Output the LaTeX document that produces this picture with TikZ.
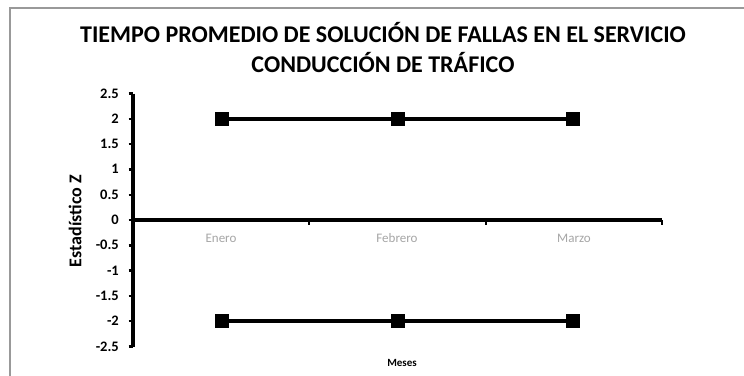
\documentclass[tikz,border=0pt]{standalone}
\usepackage{fontspec}
\setmainfont{Carlito}
\definecolor{framegray}{HTML}{999999}
\definecolor{catgray}{HTML}{A6A6A6}
\begin{document}
\begin{tikzpicture}[x=1pt,y=-1pt,
  ylab/.style={anchor=base east,font=\bfseries\fontsize{14.5}{16}\selectfont,inner sep=0pt},
  catlab/.style={anchor=base,font=\fontsize{13}{15}\selectfont,text=catgray,inner sep=0pt},
  marker/.style={fill=black,minimum size=14pt,inner sep=0pt,draw=none},
  dataline/.style={line width=3.4pt},
  axisline/.style={line width=3.6pt},
  tick/.style={line width=2.4pt}]
\useasboundingbox (0,0) rectangle (744,375);
\fill[white] (0,0) rectangle (744,375);
% frame
\draw[framegray,line width=1.5pt] (10,376) -- (10,8) -- (745,8);
% title
\node[font=\bfseries\fontsize{24}{30}\selectfont,align=center,inner sep=0pt] (title) at (383,48) {TIEMPO PROMEDIO DE SOLUCIÓN DE FALLAS EN EL SERVICIO\\CONDUCCIÓN DE TRÁFICO};
% axes
\coordinate (ytop) at (133,93.5);
\coordinate (ybot) at (133,346.5);
\coordinate (xl) at (133,220);
\coordinate (xr) at (662,220);
\draw[axisline] (ytop) -- (ybot);
\draw[axisline] (xl) -- (xr);
% y ticks and labels
\foreach \v/\t in {2.5/2.5,2/2,1.5/1.5,1/1,0.5/0.5,0/0,-0.5/-0.5,-1/-1,-1.5/-1.5,-2/-2,-2.5/-2.5}{
  \draw[tick] (128.5,220-50.6*\v) -- (133,220-50.6*\v);
  \node[ylab] at (119,224.5-50.6*\v) {\t};
}
% x ticks
\foreach \x in {309,486,662}{
  \draw[tick] (\x,220) -- (\x,224.5);
}
% category labels
\node[catlab] (enero) at (221,242.5) {Enero};
\node[catlab] (febrero) at (397,242.5) {Febrero};
\node[catlab] (marzo) at (574,242.5) {Marzo};
% axis titles
\node[font=\bfseries\fontsize{18}{20}\selectfont,rotate=90,inner sep=0pt] (ytitle) at (75,221) {Estadístico Z};
\node[anchor=base,font=\bfseries\fontsize{11}{12}\selectfont,inner sep=0pt] (xtitle) at (402,366) {Meses};
% upper series
\node[marker] (u1) at (222,119) {};
\node[marker] (u2) at (398,119) {};
\node[marker] (u3) at (573,119) {};
\draw[dataline] (u1) -- (u2) -- (u3);
% lower series
\node[marker] (l1) at (222,321) {};
\node[marker] (l2) at (398,321) {};
\node[marker] (l3) at (573,321) {};
\draw[dataline] (l1) -- (l2) -- (l3);
\end{tikzpicture}
\end{document}
